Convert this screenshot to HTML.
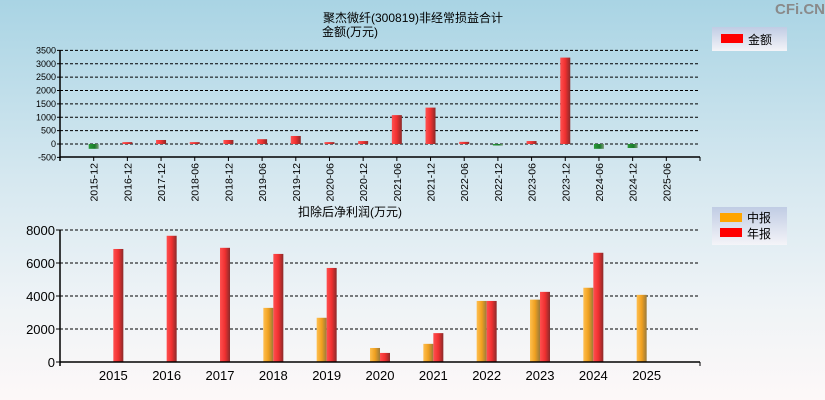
<!DOCTYPE html>
<html><head><meta charset="utf-8">
<style>
html,body{margin:0;padding:0}
body{width:825px;height:400px;overflow:hidden;background:linear-gradient(#a9d4e4,#d6e8f0 45%,#eef3f6 75%,#fdf8f8);font-family:"Liberation Sans","Noto Sans CJK SC",sans-serif}
svg{display:block}
</style></head>
<body>
<svg id="c" width="825" height="400" xmlns="http://www.w3.org/2000/svg">
<defs>
<linearGradient id="gr" x1="0" x2="1"><stop offset="0" stop-color="#ff5050"/><stop offset="0.5" stop-color="#f03030"/><stop offset="1" stop-color="#8a2a2a"/></linearGradient>
<linearGradient id="gg" x1="0" x2="1"><stop offset="0" stop-color="#2a9a3a"/><stop offset="0.6" stop-color="#1a7a2a"/><stop offset="1" stop-color="#7a9a7a"/></linearGradient>
<linearGradient id="go" x1="0" x2="1"><stop offset="0" stop-color="#ffc050"/><stop offset="0.5" stop-color="#f0a020"/><stop offset="1" stop-color="#9a7a3a"/></linearGradient>
<linearGradient id="lg" x1="0" y1="0" x2="0" y2="1"><stop offset="0" stop-color="#c0cce4"/><stop offset="1" stop-color="#f4f4f8"/></linearGradient>
</defs>
<text x="825" y="14" text-anchor="end" font-size="15" font-weight="bold" fill="#8a8a8a">CFi.CN</text>
<text x="323" y="22" font-size="12">聚杰微纤(300819)非经常损益合计</text>
<text x="322" y="36" font-size="12">金额(万元)</text>
<g><rect x="712" y="27" width="75" height="24" fill="url(#lg)"/><rect x="721" y="34" width="22" height="9" fill="#f00"/><text x="748" y="44" font-size="12">金额</text></g>
<text x="298" y="216" font-size="12">扣除后净利润(万元)</text>
<g><rect x="712" y="207" width="75" height="38" fill="url(#lg)"/><rect x="720" y="213" width="22" height="9" fill="#ffa500"/><text x="747" y="222" font-size="12">中报</text><rect x="720" y="228" width="22" height="9" fill="#f00"/><text x="747" y="238" font-size="12">年报</text></g>
<g id="top"></g><g id="bot"></g>
</svg>
<script>
const topCats=["2015-12","2016-12","2017-12","2018-06","2018-12","2019-06","2019-12","2020-06","2020-12","2021-06","2021-12","2022-06","2022-12","2023-06","2023-12","2024-06","2024-12","2025-06"];
const topVals=[-180,70,150,70,150,180,300,70,110,1080,1360,80,-30,110,3230,-180,-150,0];
const topTicks=[3500,3000,2500,2000,1500,1000,500,0,-500];
const botYears=["2015","2016","2017","2018","2019","2020","2021","2022","2023","2024","2025"];
const botMid=[null,null,null,3280,2680,850,1100,3700,3780,4500,4070];
const botAnnual=[6850,7650,6920,6550,5700,550,1750,3700,4250,6620,null];
const botTicks=[8000,6000,4000,2000,0];
const NS="http://www.w3.org/2000/svg";
function mk(p,t,a){const e=document.createElementNS(NS,t);for(const k in a)e.setAttribute(k,a[k]);p.appendChild(e);return e;}
const T=document.getElementById('top');
const tx0=60,tx1=700,ty=v=>144-v*(107/4000),tstep=(tx1-tx0)/(topCats.length+1);
const tcx=i=>tx0+(i+1)*tstep;
topTicks.forEach(v=>{const y=ty(v);
 if(v!==-500){const l=mk(T,'line',{x1:tx0,x2:tx1,y1:y,y2:y,stroke:'#000','stroke-dasharray':'3,2'});}
 mk(T,'line',{x1:tx0-3,x2:tx0,y1:y,y2:y,stroke:'#000'});
 const t=mk(T,'text',{x:tx0-4,y:y+3,'text-anchor':'end','font-size':'9'});t.textContent=v;
 });
topVals.forEach((v,i)=>{const x=tcx(i);const y0=ty(0),y1=ty(v);
 const r=mk(T,'rect',{x:x-5,y:Math.min(y0,y1),width:10,height:Math.max(Math.abs(y1-y0),v===0?0:1.5),fill:v<0?'url(#gg)':'url(#gr)'});
 
 mk(T,'line',{x1:x,x2:x,y1:157,y2:161,stroke:'#000'});
 const t=mk(T,'text',{x:0,y:0,'font-size':'10.5','text-anchor':'end',transform:`translate(${x+4},163) rotate(-90)`});t.textContent=topCats[i];
 });
mk(T,'line',{x1:tx0,x2:tx0,y1:50,y2:161,stroke:'#000','stroke-width':1.5});
mk(T,'line',{x1:tx0,x2:tx1,y1:157,y2:157,stroke:'#000','stroke-width':1.5});
mk(T,'line',{x1:tx1,x2:tx1,y1:157,y2:161,stroke:'#000'});
const B=document.getElementById('bot');
const bx0=60,bx1=700,by=v=>362-v*(132/8000),bstep=(bx1-bx0)/(botYears.length+1);
const bcx=i=>bx0+(i+1)*bstep;
botTicks.forEach(v=>{const y=by(v);
 if(v!==0){const l=mk(B,'line',{x1:bx0,x2:bx1,y1:y,y2:y,stroke:'#000','stroke-dasharray':'3,2'});}
 mk(B,'line',{x1:bx0-4,x2:bx0,y1:y,y2:y,stroke:'#000'});
 const t=mk(B,'text',{x:bx0-5,y:y+5,'text-anchor':'end','font-size':'13'});t.textContent=v;
 });
botYears.forEach((yr,i)=>{const x=bcx(i);
 if(botMid[i]!=null){const r=mk(B,'rect',{x:x-10,y:by(botMid[i]),width:10,height:362-by(botMid[i]),fill:'url(#go)'});}
 if(botAnnual[i]!=null){const r=mk(B,'rect',{x:x,y:by(botAnnual[i]),width:10,height:362-by(botAnnual[i]),fill:'url(#gr)'});}
 const t=mk(B,'text',{x:x,y:380,'text-anchor':'middle','font-size':'13'});t.textContent=yr;
 });
mk(B,'line',{x1:bx0,x2:bx0,y1:230,y2:366,stroke:'#000','stroke-width':1.5});
mk(B,'line',{x1:bx0,x2:bx1,y1:362,y2:362,stroke:'#000','stroke-width':1.5});
mk(B,'line',{x1:bx1,x2:bx1,y1:362,y2:366,stroke:'#000'});
</script>
</body></html>
